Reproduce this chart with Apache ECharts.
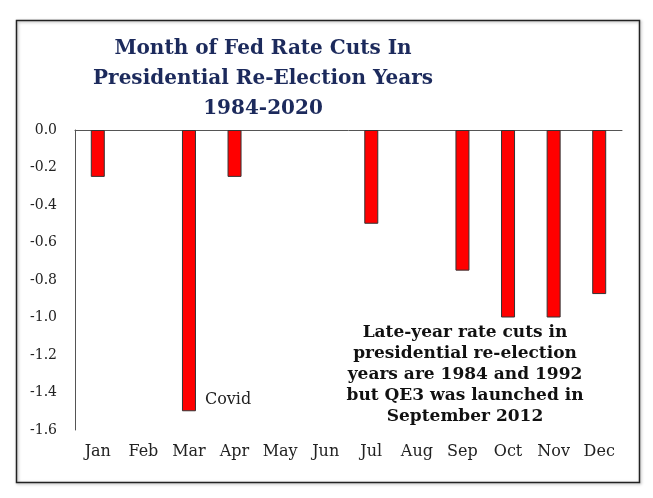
<!DOCTYPE html>
<html>
<head>
<meta charset="utf-8">
<script src="https://cdn.jsdelivr.net/npm/echarts@6/dist/echarts.min.js"></script>
<style>
  html, body { margin: 0; padding: 0; background: #fff; }
  #main { width: 653px; height: 498px; }
</style>
</head>
<body>
<div id="main"></div>
<script>
// data
var months = ["Jan", "Feb", "Mar", "Apr", "May", "Jun", "Jul", "Aug", "Sep", "Oct", "Nov", "Dec"];
var cuts = [-0.25, null, -1.5, -0.25, null, null, -0.5, null, -0.75, -1.0, -1.0, -0.875];
var yTicks = [0, -0.2, -0.4, -0.6, -0.8, -1.0, -1.2, -1.4, -1.6];

var serif = "Georgia, 'DejaVu Serif', serif";

var myChart = echarts.init(document.getElementById("main"));

var option = {
  animation: false,
  graphic: [
    {
      type: "rect",
      shape: { x: 16.5, y: 20.5, width: 623, height: 462 },
      style: { fill: null, stroke: "#222", lineWidth: 1.5, shadowBlur: 3, shadowColor: "rgba(0,0,0,0.35)", shadowOffsetX: 1, shadowOffsetY: 1 },
      z: 0
    },
    {
      // title, centred left of the page like the original
      type: "text",
      x: 263,
      y: 34,
      style: {
        text: "Month of Fed Rate Cuts In\nPresidential Re-Election Years\n1984-2020",
        font: "bold 20px " + serif,
        lineHeight: 30,
        fill: "#1c2a5c",
        align: "center"
      }
    },
    {
      type: "text",
      x: 465,
      y: 322,
      style: {
        text: "Late-year rate cuts in\npresidential re-election\nyears are 1984 and 1992\nbut QE3 was launched in\nSeptember 2012",
        font: "bold 17px " + serif,
        lineHeight: 21,
        fill: "#111",
        align: "center"
      }
    }
  ],
  grid: { left: 75, right: 31, top: 130, bottom: 68 },
  xAxis: [
    {
      type: "category",
      data: months,
      position: "bottom",
      axisLine: { show: false, onZero: false },
      axisTick: { show: false },
      axisLabel: { fontFamily: serif, fontSize: 16, color: "#222", margin: 14 }
    },
    {
      type: "category",
      data: months,
      position: "top",
      axisLine: { show: true, lineStyle: { color: "#555", width: 1 } },
      axisTick: { show: false },
      axisLabel: { show: false }
    }
  ],
  yAxis: {
    type: "value",
    min: -1.6,
    max: 0,
    interval: 0.2,
    axisLine: { show: true, lineStyle: { color: "#555", width: 1 } },
    axisTick: { show: false },
    splitLine: { show: false },
    axisLabel: {
      fontFamily: serif,
      fontSize: 14,
      color: "#222",
      margin: 18,
      formatter: function (v) { return v.toFixed(1); }
    }
  },
  series: [
    {
      type: "bar",
      data: cuts,
      barWidth: 14,
      itemStyle: { color: "#ff0000", borderColor: "#333", borderWidth: 1 },
      markPoint: {
        symbol: "circle",
        symbolSize: 0,
        data: [{ coord: ["Mar", -1.44], value: "Covid" }],
        label: {
          show: true,
          position: "right",
          distance: 16,
          formatter: "Covid",
          fontFamily: serif,
          fontSize: 16,
          color: "#222"
        }
      }
    }
  ]
};

myChart.setOption(option);
</script>
</body>
</html>
